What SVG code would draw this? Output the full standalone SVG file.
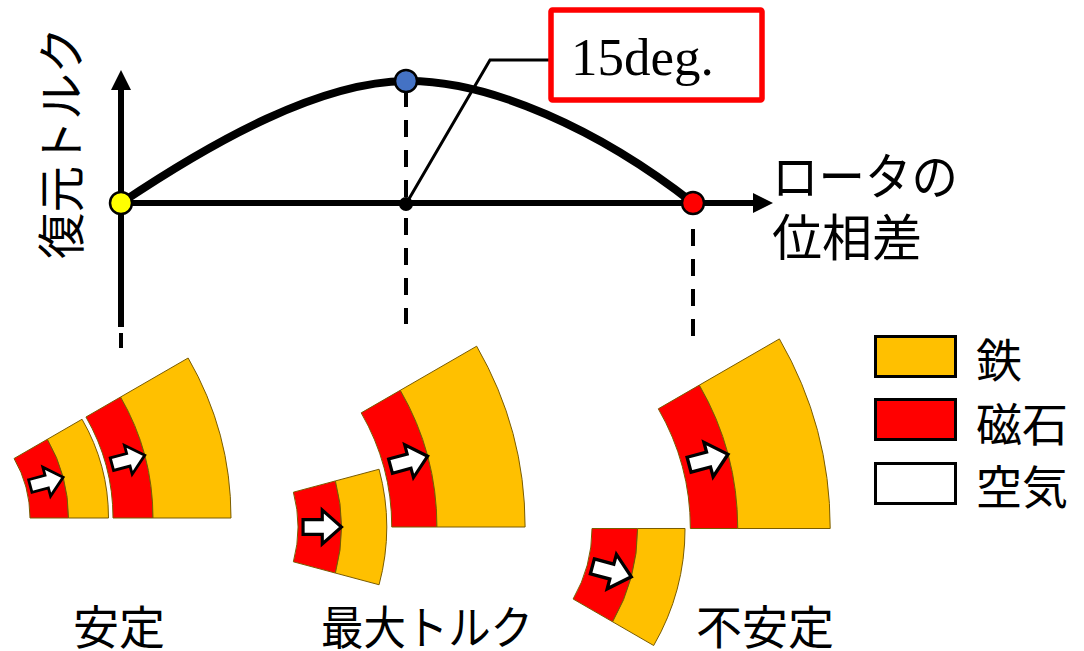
<svg xmlns="http://www.w3.org/2000/svg" xmlns:xlink="http://www.w3.org/1999/xlink" width="1084" height="651" viewBox="0 0 1084 651">
  <style>
    .jp{font-family:"Noto Sans CJK JP","Noto Sans",sans-serif;fill:#000}
    .axis{stroke:#000;stroke-width:6;fill:none}
    .dash{stroke:#000;stroke-width:4;fill:none;stroke-dasharray:17 13}
    .mag{fill:#FF0000;stroke:#7a5c00}
    .fe{fill:#FFC000;stroke:#7a5c00}
    .arw{fill:#FFFFFF;stroke:#000;stroke-width:2.8;stroke-linejoin:miter}
    .dot{stroke:#000;stroke-width:2.5}
    .key{stroke:#000;stroke-width:3}
  </style>
  <defs>
    <!-- annular sectors spanning 0..30 degrees, centred on the rotation axis -->
    <path id="sRed" vector-effect="non-scaling-stroke" stroke-width="1" d="M119,0 L157.5,0 A157.5,157.5 0 0 0 136.40,-78.75 L103.06,-59.5 A119,119 0 0 1 119,0 Z"/>
    <path id="sIron" vector-effect="non-scaling-stroke" stroke-width="1" d="M157.5,0 L197.5,0 A197.5,197.5 0 0 0 171.04,-98.75 L136.40,-78.75 A157.5,157.5 0 0 1 157.5,0 Z"/>
    <path id="lRed" vector-effect="non-scaling-stroke" stroke-width="1" d="M202,0 L242,0 A242,242 0 0 0 209.58,-121 L174.94,-101 A202,202 0 0 1 202,0 Z"/>
    <path id="lIron" vector-effect="non-scaling-stroke" stroke-width="1" d="M242,0 L320,0 A320,320 0 0 0 277.13,-160 L209.58,-121 A242,242 0 0 1 242,0 Z"/>
    <!-- magnetisation arrow, tip at origin pointing +x -->
    <path id="arw" d="M-34,-6.5 H-17 V-15 L0,0 L-17,15 V6.5 H-34 Z"/>
    <marker id="head" viewBox="0 0 20 20" refX="0" refY="10" markerWidth="20" markerHeight="20" markerUnits="userSpaceOnUse" orient="auto">
      <path d="M0,0 L20,10 L0,20 Z" fill="#000"/>
    </marker>
  </defs>

  <!-- torque curve chart -->
  <g id="connectors">
    <path class="axis" d="M121,327 V90" marker-end="url(#head)"/>
    <path class="axis" d="M121,203 H753" marker-end="url(#head)"/>
    <path d="M121,333 V348" stroke="#000" stroke-width="4"/>
    <path class="dash" d="M406,90 V197"/>
    <path class="dash" d="M406,218 V324"/>
    <path class="dash" d="M693,229 V338"/>
    <path d="M121,203 C215,140 320,82 406,81 C490,80 600,130 693,203" fill="none" stroke="#000" stroke-width="8"/>
    <path d="M406,204 L490,60 H551" fill="none" stroke="#000" stroke-width="3"/>
  </g>

  <g id="point-stable"><circle class="dot" cx="121" cy="203" r="11" fill="#FFFF00"/></g>
  <g id="point-max"><circle class="dot" cx="406" cy="81" r="11" fill="#4472C4"/></g>
  <g id="point-origin"><circle cx="406" cy="204" r="7" fill="#000"/></g>
  <g id="point-unstable"><circle class="dot" cx="693" cy="203" r="11" fill="#FF0000"/></g>

  <g id="angle-label">
    <rect x="551" y="10" width="211" height="90" rx="1.5" fill="#FFFFFF" stroke="#FF0000" stroke-width="5.5"/>
    <text x="571" y="75" font-family="'Liberation Serif','Times New Roman',serif" font-size="53">15deg.</text>
  </g>

  <g id="y-label">
    <text class="jp" transform="translate(79,259) rotate(-90)" font-size="48" textLength="232" lengthAdjust="spacingAndGlyphs">復元トルク</text>
  </g>
  <g id="x-label">
    <text class="jp" x="772" y="195" font-size="50" textLength="186" lengthAdjust="spacingAndGlyphs">ロータの</text>
    <text class="jp" x="772" y="256" font-size="50">位相差</text>
  </g>

  <!-- rotor / stator positions -->
  <g id="stable" transform="translate(-89,518)">
    <g>
      <use xlink:href="#sRed" class="mag"/>
      <use xlink:href="#sIron" class="fe"/>
      <use xlink:href="#arw" class="arw" transform="rotate(-15) translate(157.5,0)"/>
    </g>
    <use xlink:href="#lRed" class="mag"/>
    <use xlink:href="#lIron" class="fe"/>
    <use xlink:href="#arw" class="arw" transform="rotate(-15) translate(242,0)"/>
  </g>
  <g id="max-torque" transform="translate(163.5,527) scale(1.13)">
    <g transform="rotate(15)">
      <use xlink:href="#sRed" class="mag"/>
      <use xlink:href="#sIron" class="fe"/>
      <use xlink:href="#arw" class="arw" transform="rotate(-15) translate(157.5,0)"/>
    </g>
    <use xlink:href="#lRed" class="mag"/>
    <use xlink:href="#lIron" class="fe"/>
    <use xlink:href="#arw" class="arw" transform="rotate(-15) translate(242,0)"/>
  </g>
  <g id="unstable" transform="translate(451,528.5) scale(1.185)">
    <g transform="rotate(30)">
      <use xlink:href="#sRed" class="mag"/>
      <use xlink:href="#sIron" class="fe"/>
      <use xlink:href="#arw" class="arw" transform="rotate(-15) translate(157.5,0)"/>
    </g>
    <use xlink:href="#lRed" class="mag"/>
    <use xlink:href="#lIron" class="fe"/>
    <use xlink:href="#arw" class="arw" transform="rotate(-15) translate(242,0)"/>
  </g>

  <g id="caption-stable"><text class="jp" x="73" y="644" font-size="46">安定</text></g>
  <g id="caption-max"><text class="jp" x="321" y="644" font-size="46" textLength="212" lengthAdjust="spacingAndGlyphs">最大トルク</text></g>
  <g id="caption-unstable"><text class="jp" x="696" y="644" font-size="46">不安定</text></g>

  <!-- legend -->
  <g id="legend-iron">
    <rect class="key" x="875.5" y="336.5" width="80" height="40" fill="#FFC000"/>
    <text class="jp" x="976" y="377" font-size="46">鉄</text>
  </g>
  <g id="legend-magnet">
    <rect class="key" x="875.5" y="399.5" width="80" height="40" fill="#FF0000"/>
    <text class="jp" x="976" y="441" font-size="46">磁石</text>
  </g>
  <g id="legend-air">
    <rect class="key" x="875.5" y="463.5" width="80" height="40" fill="#FFFFFF"/>
    <text class="jp" x="976" y="504" font-size="46">空気</text>
  </g>
</svg>
